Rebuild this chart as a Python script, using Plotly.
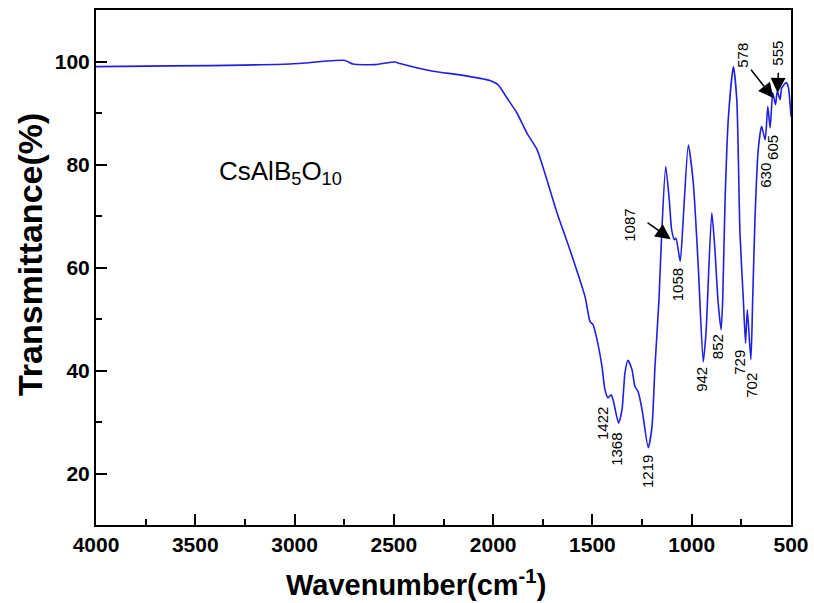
import plotly.graph_objects as go

wavenumber = [4000, 3023, 2746, 2706, 2595, 2494, 2469, 2303, 2167, 2016, 1976, 1930, 1880, 1830,
              1779, 1729, 1678, 1613, 1537, 1512, 1497, 1477, 1452, 1437, 1422, 1406, 1396, 1368,
              1351, 1336, 1321, 1301, 1286, 1270, 1250, 1219, 1200, 1185, 1165, 1151, 1131, 1113,
              1101, 1087, 1079, 1058, 1042, 1017, 992, 967, 942, 928, 899, 883, 868, 852, 844, 832,
              815, 790, 773, 757, 740, 729, 720, 702, 693, 681, 665, 648, 630, 617, 605, 592, 578,
              569, 555, 547, 525, 514, 500]
transmittance = [99.0, 99.5, 100.2, 99.5, 99.4, 99.9, 99.6, 98.1, 97.4, 96.3, 95.5, 92.9, 90.0, 86.1,
                 82.9, 77.0, 70.6, 63.4, 54.3, 49.5, 48.9, 46.0, 40.8, 36.3, 34.7, 35.3, 34.3, 29.8,
                 32.4, 39.6, 42.0, 40.2, 36.9, 35.9, 32.4, 25.0, 29.1, 40.8, 53.7, 66.7, 79.6, 73.1,
                 67.3, 65.4, 65.7, 61.2, 69.9, 83.8, 76.4, 60.2, 41.7, 47.3, 70.6, 63.4, 53.7, 47.9, 53.7, 73.1,
                 89.3, 99.0, 92.6, 66.7, 53.7, 45.3, 51.8, 42.1, 53.7, 69.9, 82.9, 87.4, 84.8, 91.3, 87.1, 93.9, 91.6,
                 94.2, 92.6, 94.8, 95.9, 95.1, 89.3]

# peak labels: text, x, y
peak_labels = ["1422", "1368", "1219", "942", "852", "729", "702", "1058", "1087", "630", "605", "578", "555"]
peak_label_x = [1452, 1376, 1220, 948, 871, 757, 697, 1073, 1311, 626, 591, 742, 566]
peak_label_y = [29.8, 24.6, 20.3, 38.2, 44.6, 41.7, 37.2, 56.6, 68.3, 78.0, 83.4, 101.3, 101.7]

# arrows: head (x,y), tail (x,y)
arrow_head_x = [1106, 589, 567]
arrow_head_y = [65.5, 92.9, 93.9]
arrow_tail_x = [1230, 707, 564]
arrow_tail_y = [68.9, 98.7, 98.1]

FONT = "Arial, 'Liberation Sans', sans-serif"

fig = go.Figure()
fig.add_trace(go.Scatter(x=wavenumber, y=transmittance, mode="lines",
                         line=dict(color="#2020e0", width=1.6, shape="spline", smoothing=0.6),
                         showlegend=False, hoverinfo="skip"))

annotations = []
for t, x, y in zip(peak_labels, peak_label_x, peak_label_y):
    annotations.append(dict(x=x, y=y, xref="x", yref="y", text=t, showarrow=False, textangle=-90,
                            font=dict(family=FONT, size=15, color="black")))
for hx, hy, tx, ty in zip(arrow_head_x, arrow_head_y, arrow_tail_x, arrow_tail_y):
    annotations.append(dict(x=hx, y=hy, ax=tx, ay=ty, xref="x", yref="y", axref="x", ayref="y",
                            text="", showarrow=True, arrowhead=2, arrowsize=2.0, arrowwidth=1.5,
                            arrowcolor="black"))
annotations.append(dict(x=3073, y=78.5, xref="x", yref="y", text="CsAlB<sub>5</sub>O<sub>10</sub>",
                        showarrow=False, font=dict(family=FONT, size=26, color="black")))
annotations.append(dict(x=0.46, y=-0.1126, xref="paper", yref="paper", yanchor="middle",
                        text="Wavenumber(cm<sup>-1</sup>)", showarrow=False,
                        font=dict(family=FONT, size=29, color="black", weight="bold")))
annotations.append(dict(x=-0.095, y=0.526, xref="paper", yref="paper", xanchor="center",
                        text="Transmittance(%)", showarrow=False, textangle=-90,
                        font=dict(family=FONT, size=34, color="black", weight="bold")))

fig.update_layout(
    width=814, height=603,
    margin=dict(l=96, r=23, t=10, b=78, autoexpand=False),
    paper_bgcolor="white", plot_bgcolor="white",
    annotations=annotations,
    xaxis=dict(range=[4000, 500], dtick=500, tick0=500, showgrid=False, zeroline=False, automargin=False,
               showline=True, linecolor="black", linewidth=2, mirror=True,
               ticks="inside", ticklen=11, tickwidth=2, tickcolor="black",
               minor=dict(ticks="inside", ticklen=6, tickwidth=2, tickcolor="black", dtick=250, showgrid=False),
               tickfont=dict(family=FONT, size=21, color="black", weight="bold")),
    yaxis=dict(range=[10, 110], dtick=20, tick0=0, showgrid=False, zeroline=False, automargin=False,
               showline=True, linecolor="black", linewidth=2, mirror=True,
               ticks="inside", ticklen=11, tickwidth=2, tickcolor="black",
               minor=dict(ticks="inside", ticklen=6, tickwidth=2, tickcolor="black", dtick=10, showgrid=False),
               tickfont=dict(family=FONT, size=21, color="black", weight="bold")),
)

fig.write_html("out.html", config={"displayModeBar": False},
               post_script="document.body.style.margin='0';document.body.style.overflow='hidden';")
